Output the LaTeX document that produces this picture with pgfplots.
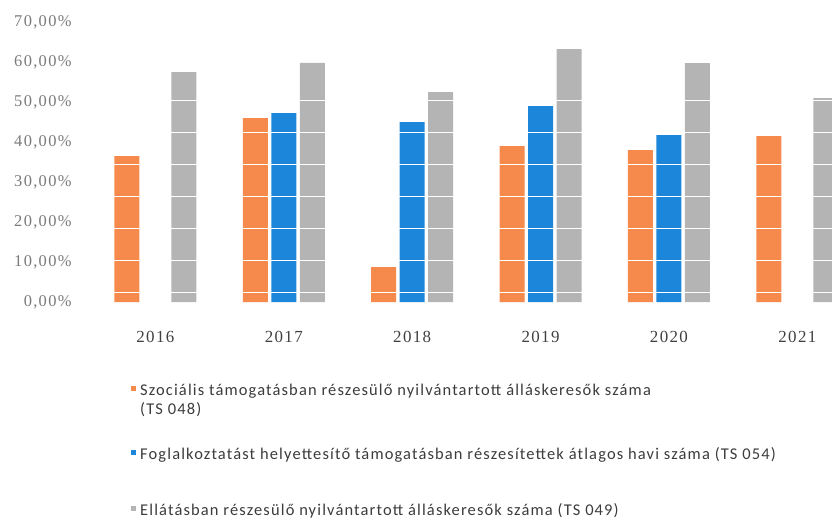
\documentclass[border=0pt]{standalone}
\usepackage{fontspec}
\setmainfont{Carlito}
\newfontfamily\numfont[LetterSpace=8]{Liberation Serif}
\newfontfamily\legfont[LetterSpace=7]{Carlito}
\usepackage{pgfplots}
\pgfplotsset{compat=1.18}
\definecolor{corange}{HTML}{F68A4C}
\definecolor{cblue}{HTML}{1C87DA}
\definecolor{cgray}{HTML}{B4B4B4}
\definecolor{ctick}{HTML}{7A7A7A}
\definecolor{cyear}{HTML}{404040}
\definecolor{cleg}{HTML}{3C3C3C}
\begin{document}
\begin{tikzpicture}
\begin{axis}[
  name=ax,
  at={(0,0)}, anchor=south west,
  scale only axis,
  width=748bp, height=280bp,
  xmin=-0.556, xmax=5.27,
  ymin=0, ymax=70,
  axis line style={draw=none},
  major tick length=0pt,
  tick style={draw=none},
  xtick={0,1,2,3,4,5},
  xticklabels={2016,2017,2018,2019,2020,2021},
  xticklabel style={font=\numfont\fontsize{17}{20}\selectfont, text=cyear, yshift=-26bp},
  ytick={0,10,20,30,40,50,60,70},
  yticklabel={\pgfmathprintnumber[fixed,fixed zerofill,precision=2,use comma]{\tick}\%},
  yticklabel style={font=\numfont\fontsize{16.5}{20}\selectfont, text=ctick, xshift=-9bp},
  /pgf/number format/assume math mode=true,
  extra y ticks={2.5,10.5,18.5,26.5,34.5,42.5,50.5},
  extra y tick labels={},
  extra y tick style={grid=major, major grid style={white, line width=0.9pt}, tick style={draw=none}},
  axis on top,
  legend cell align=left,
  legend style={at={(0,0)}, anchor=north west, xshift=44bp, yshift=-78bp,
    draw=none, fill=none, font=\legfont\fontsize{16.5}{18}\selectfont, text=cleg,
    nodes={inner sep=0pt}, column sep=4bp, row sep=0pt},
  legend image code/.code={\fill[#1] (0bp,1bp) rectangle (5bp,6bp);},
]
\addplot[ybar, fill=corange, draw=none, bar width=25bp, bar shift=-28.5bp]
  coordinates {(0,36.5) (1,46) (2,8.7) (3,39) (4,38) (5,41.5)};
\addlegendentry[text height=13bp, text depth=6bp]{Szociális támogatásban részesülő nyilvántartott álláskeresők száma}
\addlegendimage{empty legend}
\addlegendentry[text height=13bp, text depth=6bp]{(TS 048)}
\addplot[ybar, fill=cblue, draw=none, bar width=25bp, bar shift=0bp]
  coordinates {(1,47.2) (2,45) (3,49) (4,41.7)};
\addlegendentry[text height=39bp, text depth=32bp]{Foglalkoztatást helyettesítő támogatásban részesítettek átlagos havi száma (TS 054)}
\addplot[ybar, fill=cgray, draw=none, bar width=25bp, bar shift=28.5bp]
  coordinates {(0,57.5) (1,59.8) (2,52.5) (3,63.2) (4,59.7) (5,51)};
\addlegendentry[text height=24bp, text depth=17bp]{Ellátásban részesülő nyilvántartott álláskeresők száma (TS 049)}
\end{axis}
\pgfresetboundingbox
\path (-84bp,-217bp) rectangle (748bp,302bp);
\end{tikzpicture}
\end{document}
